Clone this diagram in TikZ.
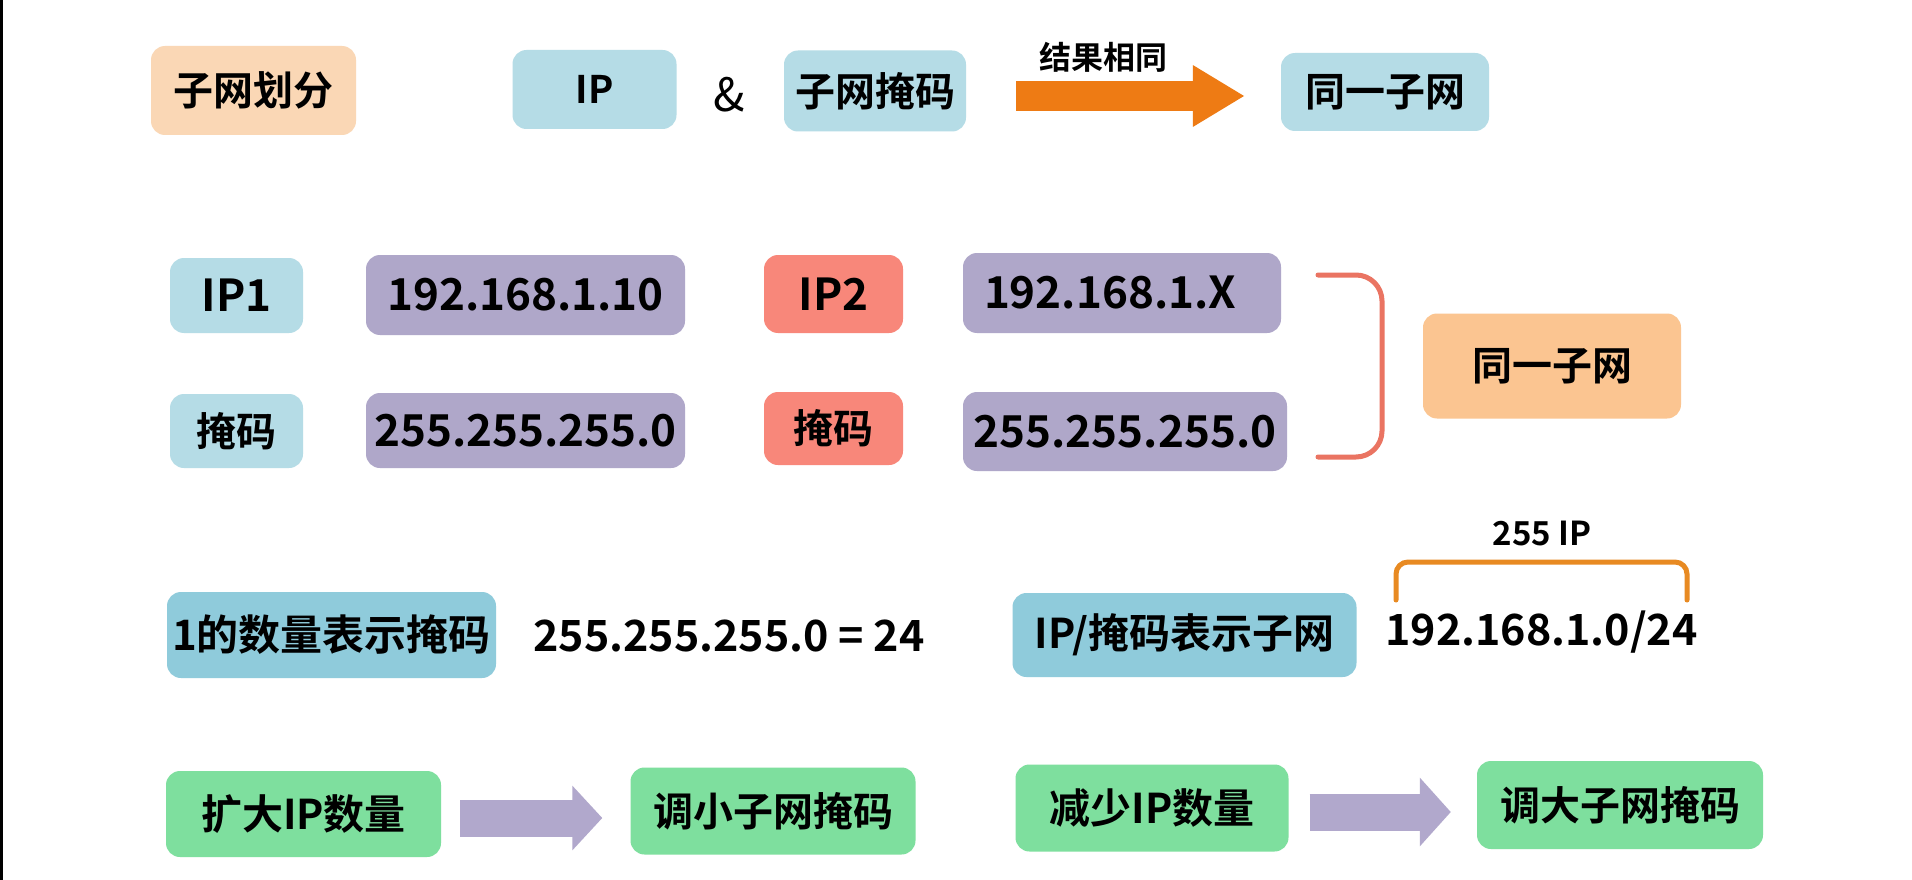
\documentclass[tikz,border=0pt]{standalone}
\usepackage{fontspec}
\setmainfont{Noto Sans CJK SC}[BoldFont={Noto Sans CJK SC Bold}]
\usetikzlibrary{arrows.meta}
\definecolor{cpeach}{HTML}{FAD7B5}
\definecolor{clblue}{HTML}{B5DCE6}
\definecolor{cpurple}{HTML}{AFA7C9}
\definecolor{csalmon}{HTML}{F8877A}
\definecolor{corange}{HTML}{FBC591}
\definecolor{cmblue}{HTML}{8FCBDB}
\definecolor{cgreen}{HTML}{7EDF9E}
\definecolor{carrow}{HTML}{EE7B14}
\definecolor{cparrow}{HTML}{B1A8CC}
\definecolor{cbrack}{HTML}{EA7462}
\definecolor{cobrack}{HTML}{E88A22}
\begin{document}
\begin{tikzpicture}[x=1pt,y=-1pt,
  box/.style={rounded corners=14pt, inner sep=0pt, text=black},
  cjk/.style={font=\fontsize{40}{44}\selectfont\bfseries},
  num/.style={font=\fontsize{44}{50}\selectfont\bfseries},
  plain/.style={inner sep=0pt, text=black},
]
\useasboundingbox (0,0) rectangle (1912,880);
\fill[white] (0,0) rectangle (1912,880);
\fill[black] (0,0) rectangle (3,880);

% row 1
\node[box, cjk, fill=cpeach, minimum width=205pt, minimum height=89pt] (sub) at (253.5,90.5) {子网划分};
\node[box, font=\fontsize{38}{42}\selectfont\bfseries, fill=clblue, minimum width=164pt, minimum height=79pt] (ipb) at (594.5,89.5) {IP};
\node[plain, font=\fontsize{46}{50}\selectfont] (amp) at (729,95) {\&};
\node[box, cjk, fill=clblue, minimum width=182pt, minimum height=81pt] (maskb) at (875,91) {子网掩码};
\node[box, cjk, fill=clblue, minimum width=208pt, minimum height=78pt] (same1) at (1385,92) {同一子网};
\draw[carrow, line width=30pt, -{Triangle[length=52pt,width=58pt]}]
  ([xshift=50pt,yshift=-5pt]maskb.east) -- ([xshift=-36pt,yshift=-4pt]same1.west);
\node[plain, font=\fontsize{32}{36}\selectfont\bfseries] (same1lbl) at (1103,57) {结果相同};

% row 2
\node[box, num, fill=clblue, minimum width=133pt, minimum height=75pt] (ip1) at (236.5,295.5) {IP1};
\node[box, num, fill=cpurple, minimum width=319pt, minimum height=80pt] (ipv1) at (525.5,295) {192.168.1.10};
\node[box, num, fill=csalmon, minimum width=139pt, minimum height=78pt] (ip2) at (833.5,294) {IP2};
\node[box, num, fill=cpurple, minimum width=318pt, minimum height=80pt, text width=276pt, align=left] (ipv2) at (1122,293) {192.168.1.X};
\node[box, cjk, fill=clblue, minimum width=133pt, minimum height=74pt] (m1) at (236.5,431) {掩码};
\node[box, num, fill=cpurple, minimum width=319pt, minimum height=75pt] (mv1) at (525.5,430.5) {255.255.255.0};
\node[box, cjk, fill=csalmon, minimum width=139pt, minimum height=73pt] (m2) at (833.5,428.5) {掩码};
\node[box, num, fill=cpurple, minimum width=324pt, minimum height=79pt] (mv2) at (1125,431.5) {255.255.255.0};
\node[box, cjk, fill=corange, minimum width=258pt, minimum height=105pt] (same2) at (1552,366) {同一子网};
\draw[cbrack, line width=5pt, rounded corners=26pt, line cap=round]
  (1318,275) -- (1382,275) -- (1382,457) -- (1318,457);

% row 3
\node[box, font=\fontsize{42}{46}\selectfont\bfseries, fill=cmblue, minimum width=329pt, minimum height=86pt] (ones) at (331.5,635) {1的数量表示掩码};
\node[plain, font=\fontsize{43}{48}\selectfont\bfseries] (eq) at (729,636) {255.255.255.0 = 24};
\node[box, font=\fontsize{41}{45}\selectfont\bfseries, fill=cmblue, minimum width=344pt, minimum height=84pt] (ipmask) at (1184.5,635) {IP/掩码表示子网};
\node[plain, font=\fontsize{43}{48}\selectfont\bfseries] (cidr) at (1541.5,632) {192.168.1.0/24};
\node[plain, font=\fontsize{33}{38}\selectfont\bfseries] (n255) at (1542,534) {255 IP};
\draw[cobrack, line width=5pt, rounded corners=12pt, line cap=round]
  (1396,600) -- (1396,562) -- (1687,562) -- (1687,600);

% row 4
\node[box, font=\fontsize{41}{45}\selectfont\bfseries, fill=cgreen, minimum width=275pt, minimum height=86pt] (more) at (303.5,814) {扩大IP数量};
\node[box, cjk, fill=cgreen, minimum width=285pt, minimum height=87pt] (small) at (773,811) {调小子网掩码};
\node[box, font=\fontsize{41}{45}\selectfont\bfseries, fill=cgreen, minimum width=273pt, minimum height=87pt] (less) at (1152,808) {减少IP数量};
\node[box, cjk, fill=cgreen, minimum width=286pt, minimum height=88pt] (big) at (1620,805) {调大子网掩码};
\draw[cparrow, line width=37pt, -{Triangle[length=30pt,width=63pt]}]
  ([xshift=19pt,yshift=-4pt]more.east) -- ([xshift=-28pt,yshift=-7pt]small.west);
\draw[cparrow, line width=37pt, -{Triangle[length=31pt,width=67pt]}]
  ([xshift=21pt,yshift=-4pt]less.east) -- ([xshift=-26pt,yshift=-7pt]big.west);
\end{tikzpicture}
\end{document}
